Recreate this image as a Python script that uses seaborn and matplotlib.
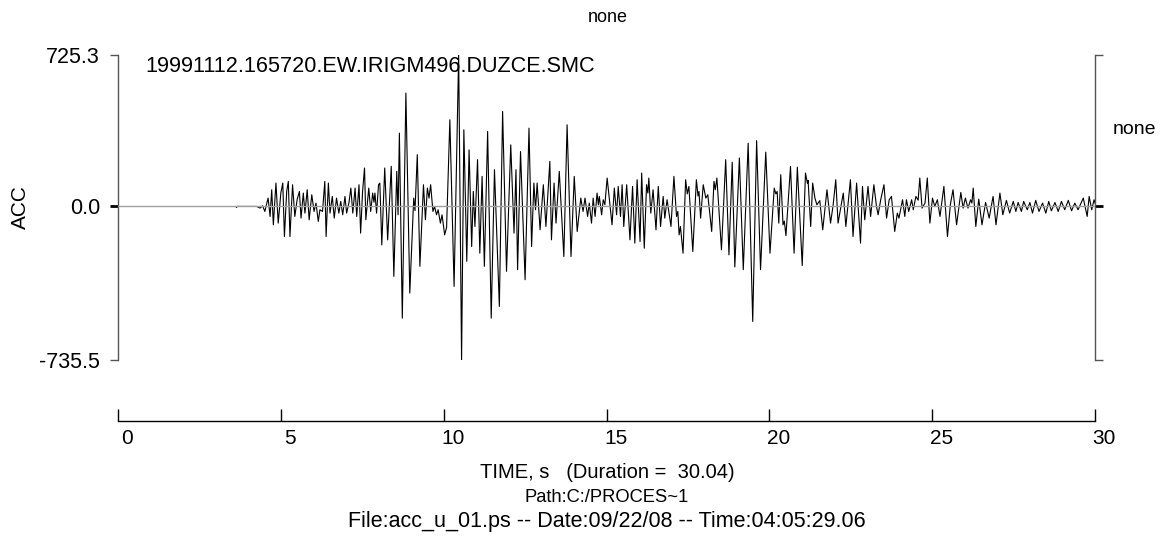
import matplotlib
matplotlib.use("Agg")
import matplotlib.pyplot as plt
import matplotlib.transforms as mtransforms
import seaborn as sns
import pandas as pd

# ---- data ----
time_s = [
    3.62, 3.64, 3.66, 4.26, 4.36, 4.44, 4.51, 4.57, 4.61,
    4.67, 4.72, 4.77, 4.85, 4.92, 5.00, 5.06, 5.11, 5.18, 5.23,
    5.28, 5.36, 5.43, 5.50, 5.57, 5.62, 5.69, 5.74, 5.81, 5.87,
    5.95, 6.02, 6.08, 6.15, 6.20, 6.28, 6.35, 6.39, 6.46, 6.51,
    6.58, 6.64, 6.71, 6.78, 6.84, 6.90, 6.97, 7.02, 7.09, 7.15,
    7.21, 7.28, 7.33, 7.40, 7.45, 7.51, 7.57, 7.61, 7.70, 7.76,
    7.82, 7.86, 7.89, 7.94, 8.00, 8.04, 8.10, 8.19, 8.28, 8.39,
    8.47, 8.56, 8.60, 8.64, 8.73, 8.84, 8.96, 9.08, 9.12, 9.19,
    9.27, 9.38, 9.44, 9.50, 9.55, 9.60, 9.67, 9.72, 9.78, 9.83,
    9.90, 9.95, 10.03, 10.09, 10.19, 10.32, 10.46, 10.55, 10.62, 10.71,
    10.78, 10.86, 10.91, 10.96, 11.04, 11.11, 11.18, 11.25, 11.35, 11.46,
    11.56, 11.71, 11.81, 11.93, 12.06, 12.16, 12.22, 12.27, 12.36, 12.50,
    12.62, 12.70, 12.77, 12.82, 12.87, 12.96, 13.06, 13.14, 13.26, 13.31,
    13.39, 13.45, 13.55, 13.69, 13.79, 13.91, 14.01, 14.10, 14.21, 14.28,
    14.34, 14.42, 14.47, 14.54, 14.59, 14.65, 14.71, 14.75, 14.78, 14.85,
    14.90, 14.95, 15.02, 15.17, 15.24, 15.31, 15.36, 15.43, 15.48, 15.53,
    15.62, 15.72, 15.80, 15.87, 15.94, 16.03, 16.08, 16.16, 16.23, 16.27,
    16.30, 16.36, 16.43, 16.52, 16.59, 16.66, 16.74, 16.79, 16.86, 16.98,
    17.07, 17.15, 17.19, 17.23, 17.27, 17.35, 17.43, 17.48, 17.53, 17.65,
    17.76, 17.81, 17.84, 17.89, 17.97, 18.05, 18.11, 18.23, 18.30, 18.34,
    18.39, 18.53, 18.66, 18.76, 18.86, 18.94, 19.08, 19.20, 19.35, 19.49,
    19.61, 19.73, 19.89, 20.02, 20.15, 20.20, 20.24, 20.29, 20.35, 20.42,
    20.46, 20.51, 20.65, 20.76, 20.86, 21.01, 21.11, 21.17, 21.19, 21.27,
    21.33, 21.40, 21.46, 21.55, 21.64, 21.77, 21.88, 21.96, 22.04, 22.11,
    22.27, 22.35, 22.42, 22.49, 22.57, 22.68, 22.80, 22.86, 22.93, 23.03,
    23.11, 23.21, 23.29, 23.34, 23.42, 23.52, 23.60, 23.68, 23.75, 23.85,
    23.93, 23.98, 24.09, 24.16, 24.21, 24.28, 24.37, 24.42, 24.50, 24.57,
    24.62, 24.69, 24.78, 24.85, 24.93, 25.01, 25.08, 25.16, 25.24, 25.36,
    25.47, 25.56, 25.64, 25.75, 25.88, 25.95, 26.02, 26.10, 26.18, 26.22,
    26.26, 26.34, 26.43, 26.53, 26.64, 26.75, 26.87, 26.96, 27.08, 27.17,
    27.28, 27.38, 27.49, 27.57, 27.64, 27.74, 27.81, 27.92, 28.00, 28.08,
    28.18, 28.28, 28.39, 28.49, 28.58, 28.66, 28.77, 28.87, 28.97, 29.07,
    29.18, 29.28, 29.38, 29.48, 29.64, 29.76, 29.82, 29.90, 29.97, 30.04,
]
acc = [
    0, -5, 0, 0, -8, 3, -24, 16, 40,
    -48, 80, -88, 112, -80, 64, 112, -144, 72, 120,
    -144, 104, -48, 32, 72, -56, 64, -32, 80, -64,
    56, -24, 16, -72, -16, -24, 120, -144, 112, -32,
    48, -56, 40, -32, 24, -40, 48, -32, 16, 88,
    -32, 88, -48, 104, -128, 72, 184, -64, 88, -24,
    64, 20, 64, -32, 104, 112, -184, 184, -160, 192,
    -335, 168, -40, 351, -535, 543, -415, 40, -20, 248,
    -287, 104, -64, 88, 40, 104, -24, 0, -40, -16,
    -80, -40, -136, -100, 415, -383, 725, -735, 367, -263,
    271, -192, 72, -96, 224, -224, 144, -287, 359, -535,
    176, -479, 455, -311, 295, -128, 176, -303, 263, -351,
    375, -192, 112, -16, 112, -112, 104, -96, 216, -160,
    112, -80, 168, -240, 391, -240, 144, -120, 40, -24,
    40, -48, 16, -80, 40, -48, 64, 8, 48, -40,
    32, 8, 136, -88, 88, -40, 96, -48, 104, -96,
    104, -160, 96, -176, 128, -168, 160, -200, 104, 64,
    136, -32, 80, -112, 96, -96, 48, -56, 32, -96,
    144, -48, -24, -136, -96, -224, 128, 60, 96, -216,
    128, 50, 72, -56, 104, 40, 56, -120, 120, 80,
    136, -208, 224, -232, 212, -290, 232, -303, 303, -551,
    315, -303, 260, -224, 88, 60, 72, -80, 152, -88,
    -70, -140, 192, -224, 188, -283, 160, 110, 125, -96,
    112, 40, 8, 28, -112, 80, -80, 8, 128, -80,
    64, -96, 16, 128, -144, 112, -176, 96, -64, 96,
    -48, 104, 0, -40, 32, 104, -56, 32, 48, -120,
    -32, -56, 32, -48, 32, -24, 32, -16, 48, 30,
    136, -8, 16, 136, -80, 40, 0, 32, -48, 96,
    -144, 10, 80, -88, 67, -8, 40, -8, 32, 16,
    88, -96, 35, -88, 19, -56, 48, -88, 64, -40,
    29, -32, 24, -24, 19, -24, 24, -16, 19, -32,
    29, -24, 16, -32, 24, -21, 19, -24, 24, -16,
    29, -21, 16, -16, 40, -48, 48, -16, 32, 0,
]
assert len(time_s) == len(acc)

y_ticks = [-735.5, 0.0, 725.3]
y_tick_labels = ["-735.5", "0.0", "725.3"]
x_ticks = [0, 5, 10, 15, 20, 25, 30]
x_tick_labels = ["0", "5", "10", "15", "20", "25", "30"]

trace_name = "19991112.165720.EW.IRIGM496.DUZCE.SMC"
top_title = "none"
right_label = "none"
y_label = "ACC"
x_label_lines = [
    "TIME, s   (Duration =  30.04)",
    "Path:C:/PROCES~1",
    "File:acc_u_01.ps -- Date:09/22/08 -- Time:04:05:29.06",
]

# ---- style ----
sns.set_style("white")
plt.rcParams["font.family"] = ["Liberation Sans", "DejaVu Sans"]
plt.rcParams["text.color"] = "black"
plt.rcParams["axes.labelcolor"] = "black"
plt.rcParams["xtick.color"] = "black"
plt.rcParams["ytick.color"] = "black"

W, H = 1161, 549
fig = plt.figure(figsize=(W / 100, H / 100), dpi=100)
fig.patch.set_facecolor("white")
ax = fig.add_axes([118 / W, 1 - 360 / H, 977 / W, 305 / H])
ax.set_facecolor("white")

df = pd.DataFrame({"time": time_s, "acc": acc})
sns.lineplot(data=df, x="time", y="acc", ax=ax, color="black", linewidth=0.8,
             estimator=None, sort=False, zorder=3)
ax.axhline(0, color="#a0a0a0", lw=1.0, zorder=4)

ax.set_xlim(0, 30)
ax.set_ylim(-735.5, 725.3)

# spines
ax.spines["top"].set_visible(False)
for side in ("left", "right"):
    ax.spines[side].set_visible(True)
    ax.spines[side].set_color("#555555")
    ax.spines[side].set_linewidth(1.0)
ax.spines["bottom"].set_visible(True)
ax.spines["bottom"].set_color("black")
ax.spines["bottom"].set_linewidth(1.0)
ax.spines["bottom"].set_position(("outward", 61 * 0.72))

# y ticks (both sides)
ax.set_yticks(y_ticks)
ax.set_yticklabels(y_tick_labels)
ax.yaxis.set_ticks_position("both")
ax.tick_params(axis="y", which="major", direction="out", length=6, width=1,
               color="#555555", labelcolor="black", labelsize=15.5, pad=7,
               left=True, right=True, labelleft=True, labelright=False)
for i, tk in enumerate(ax.yaxis.get_major_ticks()):
    if y_ticks[i] == 0.0:
        for ln in (tk.tick1line, tk.tick2line):
            ln.set_color("black")
            ln.set_markeredgecolor("black")
            ln.set_markeredgewidth(2.0)

# x ticks
ax.set_xticks(x_ticks)
ax.set_xticklabels(x_tick_labels)
ax.tick_params(axis="x", which="major", direction="in", length=12 * 0.72,
               width=1, color="black", labelcolor="black", labelsize=15, pad=6,
               bottom=True, top=False)
offset = mtransforms.ScaledTranslation(9 / 100, 0, fig.dpi_scale_trans)
for lab in ax.get_xticklabels():
    lab.set_transform(lab.get_transform() + offset)

ax.set_xlabel("")
ax.set_ylabel(y_label, fontsize=15, color="black")
ax.yaxis.set_label_coords((20 - 118) / 977, 0.5)
ax.yaxis.label.set_verticalalignment("center")

ax.text((145 - 118) / 977, (360 - 67) / 305, trace_name, transform=ax.transAxes,
        ha="left", va="center", fontsize=15.6, color="black")
ax.text((1113 - 118) / 977, (360 - 130) / 305, right_label, transform=ax.transAxes,
        ha="left", va="center", fontsize=14, color="black")
fig.text(608 / W, 1 - 17 / H, top_title, ha="center", va="center", fontsize=13,
         color="black")

for line, ypix, fs in zip(x_label_lines, [472, 497, 521], [14.5, 13.2, 15.5]):
    fig.text(607 / W, 1 - ypix / H, line, ha="center", va="center", fontsize=fs,
             color="black")

fig.savefig("out.png", dpi=100, facecolor="white")
